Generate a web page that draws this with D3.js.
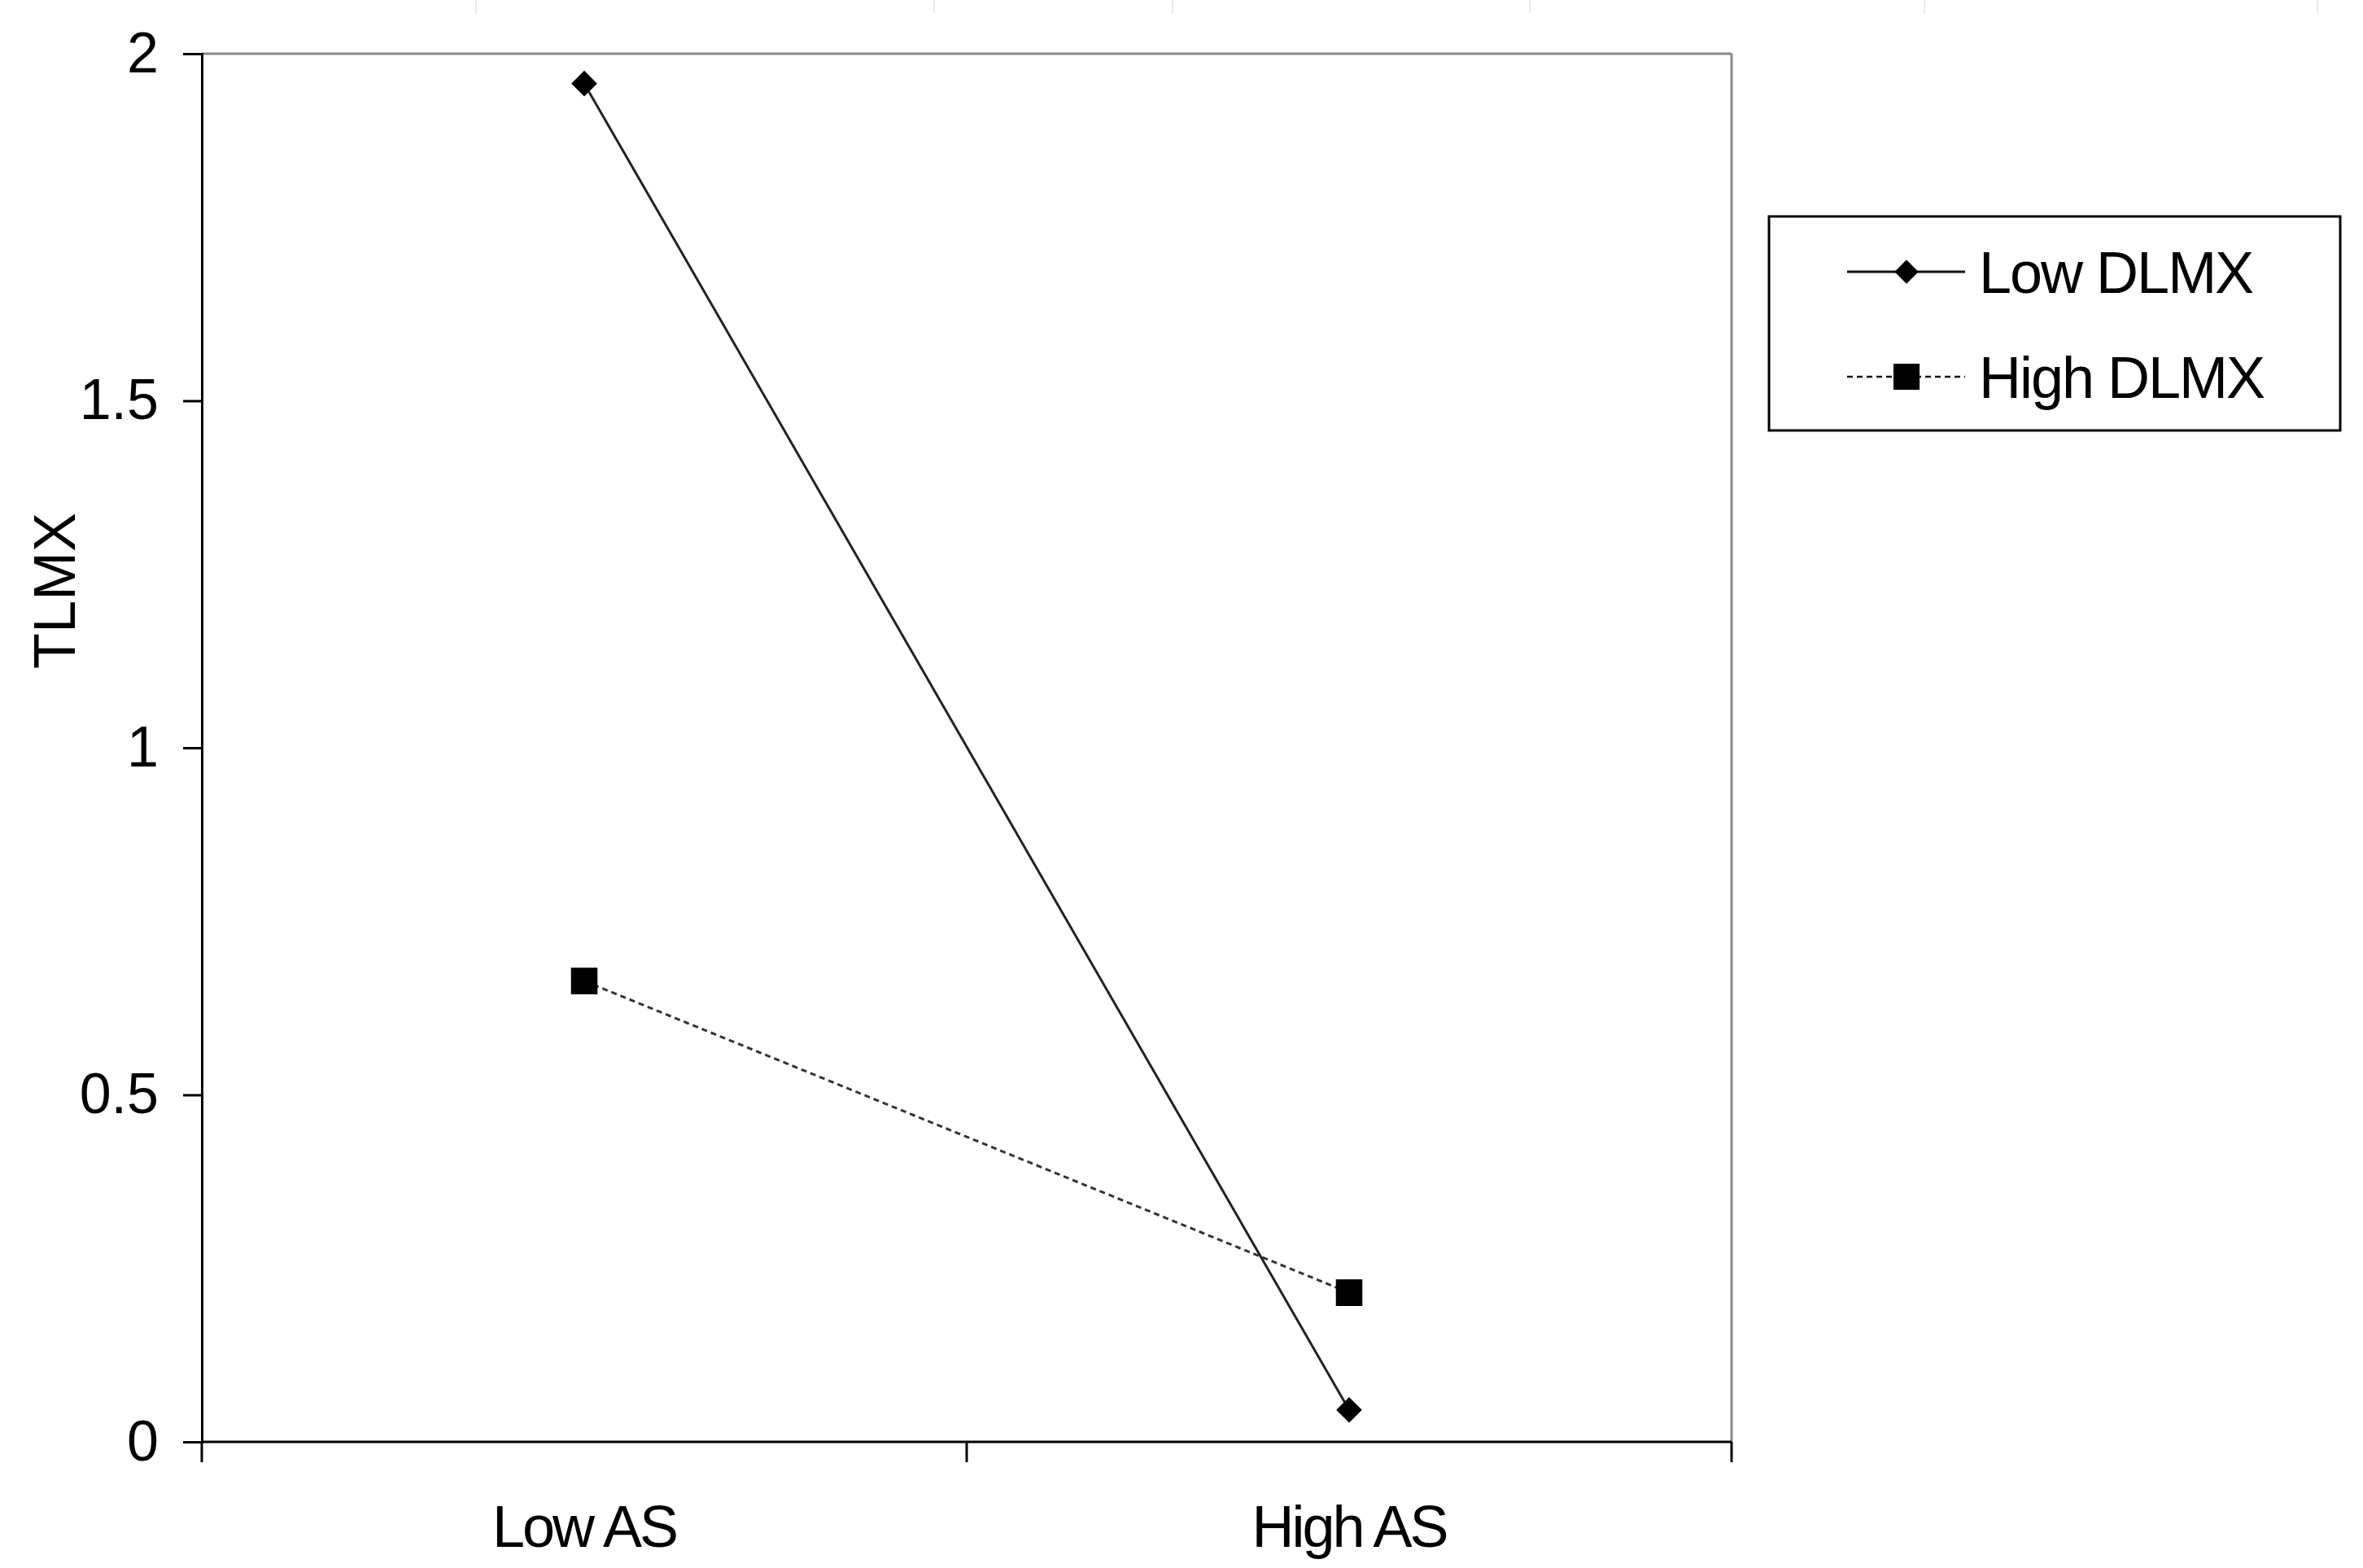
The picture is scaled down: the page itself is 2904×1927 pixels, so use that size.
<!DOCTYPE html>
<html>
<head>
<meta charset="utf-8">
<script src="https://cdn.jsdelivr.net/npm/d3@7"></script>
<style>
  html, body { margin: 0; padding: 0; background: #fff; }
  svg text { font-family: "Liberation Sans", Arial, sans-serif; fill: #000; }
</style>
</head>
<body>
<svg id="chart" width="2904" height="1927"></svg>
<script>
// ---- data ----
const categories = ["Low AS", "High AS"];
const seriesNames = ["Low DLMX", "High DLMX"];
const lowDLMX = [1.957, 0.046];
const highDLMX = [0.664, 0.215];
const yTicks = [0, 0.5, 1, 1.5, 2];
const yTitle = "TLMX";

const W = 2904, H = 1927;
const margin = { left: 248, right: 776, top: 66, bottom: 155 };
const svg = d3.select("#chart");

// faint scan artifacts at the top edge
const topMarks = [585, 1148, 1441, 1880, 2365, 2848];
svg.selectAll("line.art").data(topMarks).enter().append("line")
  .attr("x1", d => d).attr("x2", d => d).attr("y1", 0).attr("y2", 16)
  .attr("stroke", "#e2e2e2").attr("stroke-width", 1.5);

const x = d3.scaleBand().domain(categories)
  .range([margin.left, W - margin.right]).paddingInner(0).paddingOuter(0);
const y = d3.scaleLinear().domain([0, 2]).range([H - margin.bottom, margin.top]);

const x0 = x.range()[0], x1 = x.range()[1];
const y0 = y(0), yTop = y(2);

// plot frame (grey top/right)
svg.append("line").attr("x1", x0).attr("x2", x1).attr("y1", yTop).attr("y2", yTop)
  .attr("stroke", "#888").attr("stroke-width", 3);
svg.append("line").attr("x1", x1).attr("x2", x1).attr("y1", yTop).attr("y2", y0)
  .attr("stroke", "#888").attr("stroke-width", 3);

// y axis
const yAxis = d3.axisLeft(y).tickValues(yTicks).tickSize(23).tickPadding(30)
  .tickFormat(d => String(d));
const gy = svg.append("g").attr("transform", `translate(${x0},0)`).call(yAxis);
gy.select(".domain").attr("stroke", "#000").attr("stroke-width", 3);
gy.selectAll(".tick line").attr("stroke", "#000").attr("stroke-width", 3);
gy.selectAll(".tick text").attr("font-size", 70).attr("fill", "#000")
  .attr("font-family", "Liberation Sans, Arial, sans-serif");

// x axis line & ticks at band boundaries
svg.append("line").attr("x1", x0).attr("x2", x1).attr("y1", y0).attr("y2", y0)
  .attr("stroke", "#000").attr("stroke-width", 3);
const bounds = categories.map(c => x(c)).concat([x1]);
svg.selectAll("line.xt").data(bounds).enter().append("line")
  .attr("x1", d => d).attr("x2", d => d).attr("y1", y0).attr("y2", y0 + 25)
  .attr("stroke", "#000").attr("stroke-width", 3);
svg.selectAll("text.xl").data(categories).enter().append("text")
  .attr("x", d => x(d) + x.bandwidth() / 2).attr("y", 1901)
  .attr("text-anchor", "middle").attr("font-size", 72).attr("letter-spacing", -3)
  .text(d => d.replace(" ", " "));

// y title
svg.append("text").attr("transform", `translate(92,726) rotate(-90)`)
  .attr("text-anchor", "middle").attr("font-size", 72).text(yTitle);

const cx = d => x(d) + x.bandwidth() / 2;
const line = d3.line().x(d => cx(d.c)).y(d => y(d.v));
const lowData = categories.map((c, i) => ({ c, v: lowDLMX[i] }));
const highData = categories.map((c, i) => ({ c, v: highDLMX[i] }));

svg.append("path").datum(highData).attr("d", line).attr("fill", "none")
  .attr("stroke", "#333").attr("stroke-width", 3).attr("stroke-dasharray", "7,5");
svg.append("path").datum(lowData).attr("d", line).attr("fill", "none")
  .attr("stroke", "#222").attr("stroke-width", 3);

const diamond = d3.symbol(d3.symbolSquare, 500);
const square = d3.symbol(d3.symbolSquare, 1060);

svg.selectAll("path.sq").data(highData).enter().append("path")
  .attr("d", square).attr("fill", "#000")
  .attr("transform", d => `translate(${cx(d.c)},${y(d.v)})`);
svg.selectAll("path.dm").data(lowData).enter().append("path")
  .attr("d", diamond).attr("fill", "#000")
  .attr("transform", d => `translate(${cx(d.c)},${y(d.v)}) rotate(45)`);

// legend
const lg = svg.append("g");
lg.append("rect").attr("x", 2174).attr("y", 266).attr("width", 702).attr("height", 263)
  .attr("fill", "#fff").attr("stroke", "#000").attr("stroke-width", 3);
const rows = [
  { name: seriesNames[0], dash: null, sym: "diamond", y: 334 },
  { name: seriesNames[1], dash: "7,5", sym: "square", y: 463 }
];
rows.forEach(r => {
  lg.append("line").attr("x1", 2270).attr("x2", 2415).attr("y1", r.y).attr("y2", r.y)
    .attr("stroke", "#111").attr("stroke-width", r.dash ? 2.5 : 3)
    .attr("stroke-dasharray", r.dash);
  if (r.sym === "diamond") {
    lg.append("path").attr("d", d3.symbol(d3.symbolSquare, 430)).attr("fill", "#000")
      .attr("transform", `translate(2343,${r.y}) rotate(45)`);
  } else {
    lg.append("path").attr("d", d3.symbol(d3.symbolSquare, 1030)).attr("fill", "#000")
      .attr("transform", `translate(2343,${r.y})`);
  }
  lg.append("text").attr("x", 2432).attr("y", r.y + 26).attr("font-size", 72)
    .attr("letter-spacing", -2).text(r.name);
});
</script>
</body>
</html>
